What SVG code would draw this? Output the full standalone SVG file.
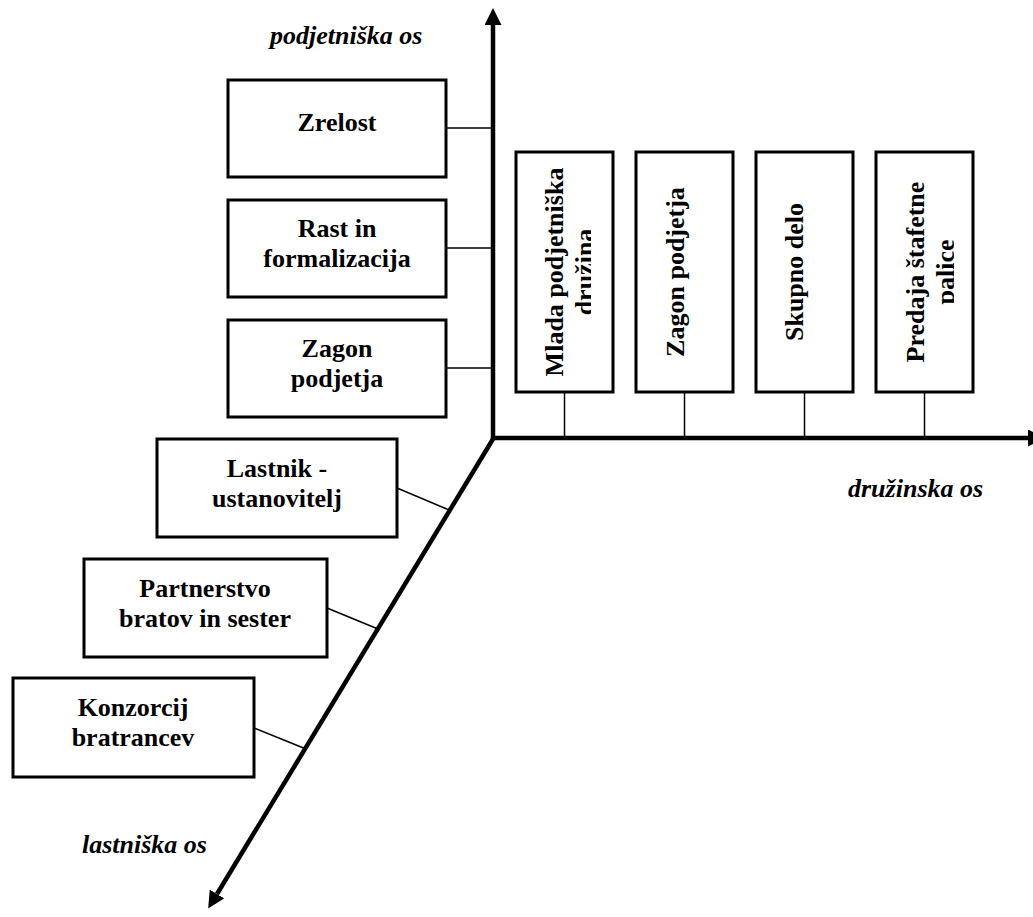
<svg xmlns="http://www.w3.org/2000/svg" width="1033" height="917" viewBox="0 0 1033 917">
  <style>
    .box { fill: #fff; stroke: #000; stroke-width: 3; }
    .link { stroke: #000; stroke-width: 1.5; fill: none; }
    .axis { stroke: #000; stroke-width: 4.5; fill: none; }
    .lbl { font-family: "Liberation Serif", "Times New Roman", serif; font-weight: bold; font-size: 26px; fill: #000; text-anchor: middle; }
    .ax { font-family: "Liberation Serif", "Times New Roman", serif; font-weight: bold; font-style: italic; font-size: 26px; fill: #000; }
  </style>
  <defs>
    <marker id="head" viewBox="0 -8.5 17 17" refX="0" refY="0" markerWidth="17" markerHeight="17" markerUnits="userSpaceOnUse" orient="auto">
      <path d="M0,-8.5 L17,0 L0,8.5 z" fill="#000"/>
    </marker>
    <clipPath id="clipMlada"><rect x="510" y="150" width="81" height="245"/></clipPath>
    <clipPath id="clipPredaja"><rect x="870" y="150" width="84" height="245"/></clipPath>
  </defs>

  <!-- axes and connectors -->
  <g id="connectors">
    <line class="axis" x1="493" y1="440" x2="493" y2="25" marker-end="url(#head)"/>
    <line class="axis" x1="491" y1="438" x2="1028" y2="438" stroke-width="3.5" marker-end="url(#head)"/>
    <line class="axis" x1="493" y1="439" x2="217" y2="894" marker-end="url(#head)"/>

    <line class="link" x1="446" y1="128" x2="493" y2="128"/>
    <line class="link" x1="446" y1="248" x2="493" y2="248"/>
    <line class="link" x1="446" y1="368" x2="493" y2="368"/>

    <line class="link" x1="397" y1="488" x2="449" y2="510"/>
    <line class="link" x1="327" y1="608" x2="378" y2="629"/>
    <line class="link" x1="254" y1="728" x2="306" y2="749"/>

    <line class="link" x1="564.5" y1="392" x2="564.5" y2="438"/>
    <line class="link" x1="684.5" y1="392" x2="684.5" y2="438"/>
    <line class="link" x1="804.5" y1="392" x2="804.5" y2="438"/>
    <line class="link" x1="924.5" y1="392" x2="924.5" y2="438"/>
  </g>

  <!-- axis titles -->
  <text class="ax" x="270" y="44">podjetniška os</text>
  <text class="ax" x="848" y="497">družinska os</text>
  <text class="ax" x="82" y="853">lastniška os</text>

  <!-- enterprise stages -->
  <g id="zrelost">
    <rect class="box" x="228" y="80" width="218" height="97"/>
    <text class="lbl" x="337" y="131">Zrelost</text>
  </g>
  <g id="rast">
    <rect class="box" x="228" y="200" width="218" height="97"/>
    <text class="lbl" x="337" y="237">Rast in</text>
    <text class="lbl" x="337" y="267">formalizacija</text>
  </g>
  <g id="zagon-left">
    <rect class="box" x="228" y="320" width="218" height="97"/>
    <text class="lbl" x="337" y="357">Zagon</text>
    <text class="lbl" x="337" y="387">podjetja</text>
  </g>

  <!-- ownership stages -->
  <g id="lastnik">
    <rect class="box" x="157" y="439" width="240" height="98"/>
    <text class="lbl" x="277" y="477">Lastnik -</text>
    <text class="lbl" x="277" y="507">ustanovitelj</text>
  </g>
  <g id="partnerstvo">
    <rect class="box" x="84" y="559" width="243" height="98"/>
    <text class="lbl" x="205" y="597">Partnerstvo</text>
    <text class="lbl" x="205" y="627">bratov in sester</text>
  </g>
  <g id="konzorcij">
    <rect class="box" x="13" y="678" width="241" height="99"/>
    <text class="lbl" x="133" y="716">Konzorcij</text>
    <text class="lbl" x="133" y="746">bratrancev</text>
  </g>

  <!-- family stages -->
  <g id="mlada">
    <rect class="box" x="516" y="152" width="97" height="240"/>
    <text class="lbl" transform="translate(563,272) rotate(-90)">Mlada podjetniška</text>
    <g clip-path="url(#clipMlada)">
      <text class="lbl" transform="translate(593,272) rotate(-90)">družina</text>
    </g>
  </g>
  <g id="zagon-right">
    <rect class="box" x="636" y="152" width="97" height="240"/>
    <text class="lbl" transform="translate(684,272) rotate(-90)">Zagon podjetja</text>
  </g>
  <g id="skupno">
    <rect class="box" x="756" y="152" width="97" height="240"/>
    <text class="lbl" transform="translate(803,272) rotate(-90)">Skupno delo</text>
  </g>
  <g id="predaja">
    <rect class="box" x="876" y="152" width="97" height="240"/>
    <text class="lbl" transform="translate(924,272) rotate(-90)">Predaja štafetne</text>
    <g clip-path="url(#clipPredaja)">
      <text class="lbl" transform="translate(954,272) rotate(-90)">palice</text>
    </g>
  </g>
</svg>
